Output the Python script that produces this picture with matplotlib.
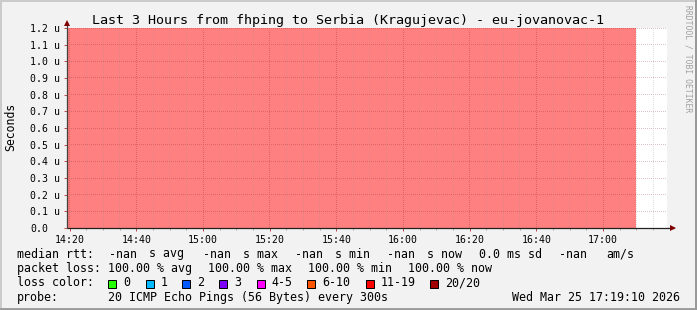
import matplotlib
matplotlib.use("Agg")
import matplotlib.pyplot as plt
import matplotlib.dates as mdates
import matplotlib.colors as mcolors
from matplotlib.patches import Rectangle
from matplotlib.lines import Line2D
from datetime import datetime, timedelta
import numpy as np

plt.rcParams['font.family'] = ['DejaVu Sans Mono', 'DejaVu Sans']

# ---------------- data ----------------
title = "Last 3 Hours from fhping to Serbia (Kragujevac) - eu-jovanovac-1"
y_label = "Seconds"
watermark = "RRDTOOL / TOBI OETIKER"
range_start = "2026-03-25 14:19:10"
range_end = "2026-03-25 17:19:10"
sample_step_min = 5
sample_times = ["14:15", "14:20", "14:25", "14:30", "14:35", "14:40", "14:45", "14:50",
                "14:55", "15:00", "15:05", "15:10", "15:15", "15:20", "15:25", "15:30",
                "15:35", "15:40", "15:45", "15:50", "15:55", "16:00", "16:05", "16:10",
                "16:15", "16:20", "16:25", "16:30", "16:35", "16:40", "16:45", "16:50",
                "16:55", "17:00", "17:05"]
packet_loss_pct = [100.0, 100.0, 100.0, 100.0, 100.0, 100.0, 100.0, 100.0,
                   100.0, 100.0, 100.0, 100.0, 100.0, 100.0, 100.0, 100.0,
                   100.0, 100.0, 100.0, 100.0, 100.0, 100.0, 100.0, 100.0,
                   100.0, 100.0, 100.0, 100.0, 100.0, 100.0, 100.0, 100.0,
                   100.0, 100.0, 100.0]
y_ticks_us = [0.0, 0.1, 0.2, 0.3, 0.4, 0.5, 0.6, 0.7, 0.8, 0.9, 1.0, 1.1, 1.2]
y_tick_labels = ["0.0", "0.1 u", "0.2 u", "0.3 u", "0.4 u", "0.5 u", "0.6 u",
                 "0.7 u", "0.8 u", "0.9 u", "1.0 u", "1.1 u", "1.2 u"]
y_max_us = 1.2

median_values = ["-nan", "-nan", "-nan", "-nan"]
median_units = ["s avg", "s max", "s min", "s now"]
sd_text = "0.0 ms sd"
am_value = "-nan"
am_unit = "am/s"
loss_values = ["100.00 % avg", "100.00 % max", "100.00 % min", "100.00 % now"]
loss_color_labels = ["0", "1", "2", "3", "4-5", "6-10", "11-19", "20/20"]
loss_colors = ["#26ff00", "#00b8ff", "#0059ff", "#7e00ff", "#ff00ff", "#ff5500",
               "#ff0000", "#a10000"]
probe_text = "20 ICMP Echo Pings (56 Bytes) every 300s"
timestamp = "Wed Mar 25 17:19:10 2026"

# ---------------- style ----------------
W, H = 697, 310
BACK = "#F2F2F2"
MGRID = "#821E1E"
GRID = "#8C8C8C"
GRID_ALPHA = 0x44 / 255
LOSS_FILL = "#FF8080"
ARROW = "#7F0000"
F_TITLE, F_LEG, F_AXIS, F_UNIT, F_WM = 9.6, 8.37, 7.1, 8.3, 5.8

fig = plt.figure(figsize=(W / 100, H / 100), dpi=100, facecolor=BACK)


def fx(x):
    return x / W


def fy(y):
    return 1 - y / H


# 3D frame
fig.add_artist(Line2D([fx(1), fx(1)], [fy(0), fy(H - 1)], color="#CBCBCB", lw=1.44))
fig.add_artist(Line2D([fx(0), fx(W - 1)], [fy(1), fy(1)], color="#CBCBCB", lw=1.44))
fig.add_artist(Line2D([fx(W - 1), fx(W - 1)], [fy(1), fy(H)], color="#999999", lw=1.44))
fig.add_artist(Line2D([fx(1), fx(W)], [fy(H - 1.2), fy(H - 1.2)], color="#999999", lw=2.0))

ax = fig.add_axes([fx(67), 1 - 228 / H, 600 / W, 200 / H])
ax.set_facecolor("white")

t0 = datetime.strptime(range_start, "%Y-%m-%d %H:%M:%S")
t1 = datetime.strptime(range_end, "%Y-%m-%d %H:%M:%S")
day = range_start[:10]
times = [datetime.strptime(day + " " + s, "%Y-%m-%d %H:%M") for s in sample_times]
edges = times + [times[-1] + timedelta(minutes=sample_step_min)]
lossy = [1.0 if v > 0 else 0.0 for v in packet_loss_pct]
ax.fill_between(edges, 0, lossy + [lossy[-1]], step='post', color=LOSS_FILL,
                linewidth=0, transform=ax.get_xaxis_transform(), zorder=1)

ax.set_xlim(t0, t1)
ax.set_ylim(0, y_max_us)

ax.set_yticks(y_ticks_us)
ax.set_yticklabels(y_tick_labels)
ax.xaxis.set_major_locator(mdates.MinuteLocator(byminute=[0, 20, 40]))
ax.xaxis.set_major_formatter(mdates.DateFormatter("%H:%M"))
ax.xaxis.set_minor_locator(mdates.MinuteLocator(byminute=range(0, 60, 5)))
ax.grid(False)

# pixel-exact dotted grid (rrdtool style), placed from the axis scales
bb = ax.bbox
pw, ph = int(round(bb.width)), int(round(bb.height))
ov = np.zeros((ph, pw, 4))
mg = mcolors.to_rgb(MGRID)
gg = mcolors.to_rgb(GRID)
maj_x = list(ax.get_xticks())
min_x = [v for v in ax.xaxis.get_minorticklocs() if all(abs(v - m) > 1e-6 for m in maj_x)]


def col_of(v):
    return int(np.floor(ax.transData.transform((v, 0))[0] - bb.x0))


def row_of(v):
    return int(np.floor(bb.y1 - ax.transData.transform((ax.get_xlim()[0], v))[1]))


for v in min_x:
    c = col_of(v)
    if 0 < c < pw:
        ov[0::2, c, :3] = gg
        ov[0::2, c, 3] = GRID_ALPHA
for v in maj_x:
    c = col_of(v)
    if 0 < c < pw:
        ov[0::2, c, :3] = mg
        ov[0::2, c, 3] = GRID_ALPHA
for v in y_ticks_us[1:]:
    r = min(max(row_of(v), 0), ph - 1)
    ov[r, 0::2, :3] = mg
    ov[r, 0::2, 3] = GRID_ALPHA
ax.imshow(ov, extent=(0, 1, 0, 1), transform=ax.transAxes, interpolation='nearest',
          aspect='auto', zorder=2)
ax.set_xlim(t0, t1)
ax.set_ylim(0, y_max_us)

for s in ax.spines.values():
    s.set_visible(False)

ax.tick_params(axis='y', which='major', length=2.2, width=0.72, color="#C05050",
               labelsize=F_AXIS, pad=24.5)
for lab in ax.get_yticklabels():
    lab.set_ha('left')
ax.tick_params(axis='x', which='major', length=2.2, width=0.72, color="#C05050",
               labelsize=F_AXIS, pad=2.5)
ax.tick_params(axis='x', which='minor', length=1.4, width=0.72, color="#B0B0B0")

# axes lines with arrows
ax.plot([0, 1.011], [0, 0], transform=ax.transAxes, color="#222222", lw=0.9,
        clip_on=False, zorder=5, solid_capstyle='butt')
ax.plot([0, 0], [0, 1.03], transform=ax.transAxes, color="#404040", lw=0.9,
        clip_on=False, zorder=5, solid_capstyle='butt')
ax.plot([1.0095], [0], marker='>', markersize=4.2, color=ARROW, transform=ax.transAxes,
        clip_on=False, zorder=6, markeredgewidth=0)
ax.plot([0], [1.025], marker='^', markersize=4.2, color=ARROW, transform=ax.transAxes,
        clip_on=False, zorder=6, markeredgewidth=0)

# title, unit, watermark
fig.text(fx(348.5), fy(24), title, fontsize=F_TITLE, ha='center', va='baseline')
fig.text(fx(10.5), fy(127), y_label, fontsize=F_UNIT, rotation=90, ha='center', va='center')
fig.text(fx(688), fy(5), watermark, fontsize=F_WM, rotation=-90, ha='center', va='top',
         color="#A0A0A0")


# legend rows
def t(x, y, s, **kw):
    fig.text(fx(x), fy(y), s, fontsize=F_LEG, ha=kw.pop('ha', 'left'), va='baseline', **kw)


row_med, row_loss, row_col, row_probe = 257.5, 271.8, 286.3, 300.8
t(16.7, row_med, "median rtt:")
for v, u, xv, xu in zip(median_values, median_units, [109, 202.7, 295, 386.7],
                        [149, 242.7, 335, 426.7]):
    t(xv, row_med, v)
    t(xu, row_med, u)
t(479, row_med, sd_text)
t(559.3, row_med, am_value)
t(606.5, row_med, am_unit)

t(16.7, row_loss, "packet loss:")
for v, xv in zip(loss_values, [107.7, 207.7, 307.7, 407.7]):
    t(xv, row_loss, v)

t(16.7, row_col, "loss color:")
for lab, col, xs in zip(loss_color_labels, loss_colors,
                        [108.3, 145.7, 182.3, 219.3, 256.7, 307.3, 365.7, 430]):
    fig.add_artist(Rectangle((fx(xs), fy(287.5)), 8 / W, 8 / H, transform=fig.transFigure,
                             facecolor=col, edgecolor='black', linewidth=0.72))
    t(xs + 15, row_col, lab)

t(16.7, row_probe, "probe:")
t(107.7, row_probe, probe_text)
t(680, row_probe, timestamp, ha='right')

fig.savefig("out.png", dpi=100, facecolor=BACK)
